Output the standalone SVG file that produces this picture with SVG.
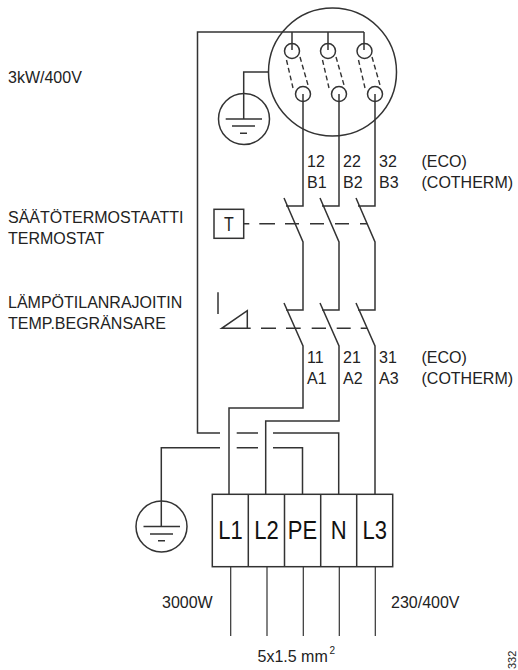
<svg xmlns="http://www.w3.org/2000/svg" width="518" height="670" viewBox="0 0 518 670">
<style>
.l{fill:none;stroke:#333;stroke-width:1.5}
.d{fill:none;stroke:#333;stroke-width:1.4;stroke-dasharray:5 3}
.g{fill:none;stroke:#333;stroke-width:1.2}
text{font-family:"Liberation Sans",Arial,sans-serif;font-size:16px;fill:#222}
text.b{font-size:22px;fill:#111}
text.s{font-size:10px}
text.m{font-size:11px}
</style>
<rect width="518" height="670" fill="#fff"/>
<g id="connectors">
<path class="l" d="M292 50V32M328 50V32M364 50V32M268 72H243.7V119"/>
<path class="l" d="M364 32H197.5V433H220M236.7 433H258M273 433H338.7V494M161.3 526V447.7H220M236.7 447.7H258M273 447.7H302.5V494"/>
<path class="l" d="M303 94V206H286M284 198L303 242V310H286M284 303L303 346V408H229V494"/>
<path class="l" d="M339 94V206H322M320 198L339 242V310H322M320 303L339 346V421H265.7V494"/>
<path class="l" d="M375 94V206H358M356 198L375 242V310H358M356 303L375 346V494"/>
<path class="l" d="M244 223.7H249.3M259.3 223.7H275M285 223.7H299M310 223.7H324M335 223.7H349M360 223.7H367"/>
<path class="l" d="M261 328.3H276M286 328.3H300.7M311.7 328.3H326M336.7 328.3H350.7M360.7 328.3H367"/>
<path class="g" d="M230.7 566V636M267 566V636M303.3 566V636M339.3 566V636M375.3 566V636"/>
</g>
<g id="motor">
<circle class="l" cx="332.5" cy="72" r="64"/>
<circle class="l" cx="292" cy="51" r="7.5"/><circle class="l" cx="328" cy="51" r="7.5"/><circle class="l" cx="364.5" cy="51" r="7.5"/>
<circle class="l" cx="303" cy="94" r="7.5"/><circle class="l" cx="339" cy="94" r="7.5"/><circle class="l" cx="375" cy="94" r="7.5"/>
<path class="d" d="M286.5 60L293 88M300 57L308 85M322.5 60L329 88M336 57L344 85M358.5 60L365 88M372 57L380 85"/>
</g>
<g id="earth-top">
<circle class="l" cx="244" cy="119" r="25.5"/>
<path class="l" d="M225.7 119H262M232 126H255M240 133.3H247"/>
</g>
<g id="earth-bottom">
<circle class="l" cx="161.5" cy="526.5" r="25.5"/>
<path class="l" d="M143.5 526.5H180M150 534H173M158 540.7H165"/>
</g>
<g id="thermostat">
<rect class="l" x="214" y="209.3" width="29.7" height="29"/>
<text transform="translate(229,230.5) scale(1,1.25)" text-anchor="middle">T</text>
</g>
<g id="limiter">
<path class="l" d="M218 292.3V314M250.7 328.3H221.7L247.3 310.7V328.3"/>
</g>
<g id="terminals">
<rect class="l" x="212.3" y="494.3" width="180.4" height="72.4"/>
<path class="l" d="M248.3 494.3V566.7M284.5 494.3V566.7M320.7 494.3V566.7M356.7 494.3V566.7"/>
<text class="b" transform="translate(230.5,538.5) scale(1,1.16)" text-anchor="middle">L1</text>
<text class="b" transform="translate(266.5,538.5) scale(1,1.16)" text-anchor="middle">L2</text>
<text class="b" transform="translate(302.5,538.5) scale(1,1.16)" text-anchor="middle">PE</text>
<text class="b" transform="translate(338.7,538.5) scale(1,1.16)" text-anchor="middle">N</text>
<text class="b" transform="translate(374.7,538.5) scale(1,1.16)" text-anchor="middle">L3</text>
</g>
<g id="labels">
<text x="8" y="82.5">3kW/400V</text>
<text x="307" y="166.5">12</text><text x="343" y="166.5">22</text><text x="379" y="166.5">32</text><text x="421.5" y="166.5">(ECO)</text>
<text x="307" y="188.3">B1</text><text x="343" y="188.3">B2</text><text x="379" y="188.3">B3</text><text x="421.5" y="188.3">(COTHERM)</text>
<text x="8" y="222.7">SÄÄTÖTERMOSTAATTI</text><text x="8" y="243.5">TERMOSTAT</text>
<text x="8" y="307.5">LÄMPÖTILANRAJOITIN</text><text x="8" y="328.5">TEMP.BEGRÄNSARE</text>
<text x="307" y="362.5">11</text><text x="343" y="362.5">21</text><text x="379" y="362.5">31</text><text x="421.5" y="362.5">(ECO)</text>
<text x="307" y="383.5">A1</text><text x="343" y="383.5">A2</text><text x="379" y="383.5">A3</text><text x="421.5" y="383.5">(COTHERM)</text>
<text x="162" y="608.3">3000W</text><text x="391" y="608.3">230/400V</text>
<text x="257.5" y="661.5">5x1.5 mm</text><text class="s" x="329.5" y="654">2</text>
<text class="m" transform="translate(516,669) rotate(-90)">332</text>
</g>
</svg>
